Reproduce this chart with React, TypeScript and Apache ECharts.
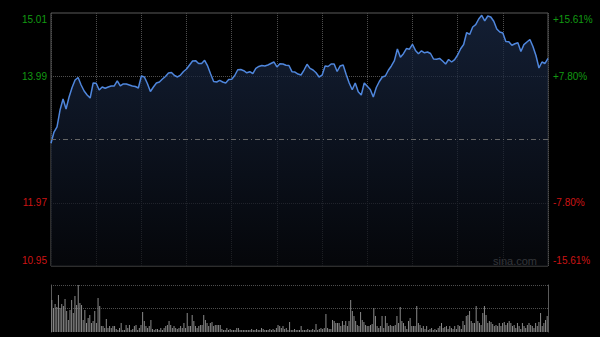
import React, { useEffect, useRef } from "react";
import * as echarts from "echarts";

const prevClose = 12.98;
const priceMin = 10.95;
const priceMax = 15.01;
const minuteStep = 2;
const totalMinutes = 330;
const gridStepMinutes = 30;
const leftLabels = ["10.95", "11.97", "", "13.99", "15.01"];
const rightLabels = ["-15.61%", "-7.80%", "", "+7.80%", "+15.61%"];

const prices = [
  12.919, 13.1, 13.181, 13.453, 13.63, 13.469, 13.662, 13.815, 13.935, 13.975,
  13.855, 13.758, 13.694, 13.646, 13.887, 13.882, 13.774, 13.823, 13.802, 13.823,
  13.839, 13.839, 13.919, 13.839, 13.871, 13.871, 13.855, 13.839, 13.831, 13.807,
  13.999, 13.983, 13.879, 13.75, 13.823, 13.887, 13.903, 13.951, 13.991, 14.047,
  14.055, 14.007, 13.983, 14.015, 14.071, 14.111, 14.176, 14.24, 14.245, 14.2,
  14.2, 14.251, 14.16, 14.031, 13.911, 13.903, 13.93, 13.903, 13.887, 13.943,
  13.946, 14.007, 14.099, 14.103, 14.084, 14.05, 14.068, 14.039, 14.123, 14.152,
  14.168, 14.16, 14.176, 14.2, 14.224, 14.144, 14.195, 14.192, 14.172, 14.168,
  14.068, 14.063, 14.031, 14.015, 14.095, 14.187, 14.121, 14.095, 14.052, 13.983,
  14.012, 14.16, 14.152, 14.192, 14.192, 14.071, 14.16, 14.176, 14.023, 13.887,
  13.778, 13.887, 13.747, 13.694, 13.887, 13.834, 13.782, 13.662, 13.815, 13.911,
  13.983, 13.999, 14.091, 14.16, 14.245, 14.432, 14.299, 14.357, 14.439, 14.429,
  14.508, 14.41, 14.357, 14.403, 14.371, 14.384, 14.36, 14.272, 14.267, 14.281,
  14.24, 14.192, 14.264, 14.224, 14.261, 14.336, 14.437, 14.504, 14.697, 14.665,
  14.785, 14.822, 14.914, 14.973, 14.882, 14.962, 14.946, 14.878, 14.753, 14.705,
  14.689, 14.553, 14.549, 14.492, 14.516, 14.532, 14.392, 14.503, 14.545, 14.585,
  14.472, 14.328, 14.127, 14.224, 14.2, 14.283,
];

const volumesMorning = [
  32, 24, 28, 25, 37, 24, 28, 26, 33, 21, 12, 22, 32, 19, 36, 27, 47, 29, 27, 12,
  22, 9, 14, 17, 9, 11, 21, 9, 34, 26, 6, 6, 4, 13, 4, 6, 4, 6, 6, 3,
  2, 4, 9, 2, 2, 7, 4, 7, 2, 3, 6, 7, 2, 4, 7, 20, 11, 6, 4, 6,
  12, 3, 2, 3, 3, 2, 4, 2, 4, 6, 7, 11, 7, 4, 6, 4, 3, 4, 6, 4,
  9, 4, 19, 6, 6, 17, 11, 6, 4, 6, 7, 7, 17, 12, 9, 6, 9, 10, 6, 7,
];
const volumesMidday = [
  7, 7, 7, 3, 2, 2, 4, 2, 3, 2, 2, 2, 4, 4, 2, 2, 2, 2, 2, 2,
  2, 3, 2, 2, 3, 2, 2, 4, 3, 2, 2, 2, 3, 2, 3, 2, 4, 7, 6, 4,
  6, 3, 4, 2, 10, 2, 2, 3, 2, 2, 2, 6, 2, 2, 2, 3, 2, 2, 3, 2,
  8, 2, 3, 4, 3, 4, 18, 4, 3, 3, 12, 11, 9, 9, 9, 6, 11, 7, 11, 6,
  11, 32, 21, 16, 11, 7, 6, 20, 12, 10, 7, 6, 6, 7, 8, 24, 16, 6, 4, 6,
  16, 4,
];
const volumesAfternoon = [
  16, 9, 6, 7, 6, 6, 7, 16, 9, 25, 11, 9, 6, 3, 11, 14, 6, 6, 6, 26,
  9, 7, 4, 6, 3, 6, 2, 3, 4, 2, 3, 2, 4, 6, 9, 4, 5, 6, 3, 6,
  4, 3, 6, 3, 7, 6, 3, 11, 7, 16, 17, 21, 11, 9, 9, 26, 11, 9, 7, 19,
  26, 17, 9, 11, 10, 8, 6, 7, 6, 9, 6, 9, 10, 7, 9, 11, 9, 6, 7, 4,
  9, 6, 3, 9, 6, 4, 7, 9, 7, 6, 4, 9, 6, 10, 19, 6, 9, 12, 16,
];

export default function App() {
  const ref = useRef<HTMLDivElement>(null);

  useEffect(() => {
    document.body.style.margin = "0";
    document.body.style.background = "#000";
    if (!ref.current) return;
    const chart = echarts.init(ref.current, null, { renderer: "svg" });

    const volumes = [...volumesMorning, ...volumesMidday, ...volumesAfternoon];
    const volMax = Math.max(...volumes);
    const green = "#129a12";
    const red = "#cc1414";
    const font = "Arial, 'Liberation Sans', sans-serif";
    const fs = 10;
    const rich = {
      gTop: { color: green, fontSize: fs, fontFamily: font, padding: [12, 0, 0, 0] },
      g: { color: green, fontSize: fs, fontFamily: font },
      r: { color: red, fontSize: fs, fontFamily: font },
      rBot: { color: red, fontSize: fs, fontFamily: font, padding: [0, 0, 12, 0] },
    };
    const fmt = (labels: string[]) => (v: number) => {
      const i = Math.round(v);
      const t = labels[i];
      if (!t) return "";
      const key = i === 4 ? "gTop" : i === 3 ? "g" : i === 1 ? "r" : "rBot";
      return `{${key}|${t}}`;
    };
    const hidden = "rgba(0,0,0,0)";

    chart.setOption({
      animation: false,
      backgroundColor: "#000",
      grid: [
        {
          left: 51,
          right: 52,
          top: 13,
          height: 253,
          show: true,
          borderColor: "#5a5a5a",
          borderWidth: 1,
          backgroundColor: "transparent",
          outerBoundsMode: "none",
        },
        { left: 51, right: 52, top: 285, height: 47, outerBoundsMode: "none" },
      ],
      xAxis: [
        {
          type: "value",
          gridIndex: 0,
          min: 0,
          max: totalMinutes,
          interval: gridStepMinutes,
          axisLine: { show: false },
          axisTick: { show: false },
          axisLabel: { show: false },
          splitLine: { show: true, lineStyle: { color: "#4e4e4e", type: "dotted", width: 1 } },
        },
        {
          type: "category",
          gridIndex: 1,
          data: volumes.map((_, i) => i),
          show: false,
        },
      ],
      yAxis: [
        { type: "value", gridIndex: 0, min: priceMin, max: priceMax, show: false },
        {
          type: "value",
          gridIndex: 0,
          position: "left",
          min: 0,
          max: 4,
          interval: 1,
          axisLine: { show: false },
          axisTick: { show: false },
          axisLabel: { show: true, margin: 4, formatter: fmt(leftLabels), rich },
          splitLine: {
            show: true,
            lineStyle: { color: [hidden, "#4e4e4e", hidden, "#4e4e4e", hidden], type: "dotted", width: 1 },
          },
        },
        {
          type: "value",
          gridIndex: 0,
          position: "right",
          min: 0,
          max: 4,
          interval: 1,
          axisLine: { show: false },
          axisTick: { show: false },
          axisLabel: { show: true, margin: 5, formatter: fmt(rightLabels), rich },
          splitLine: { show: false },
        },
        {
          type: "value",
          gridIndex: 1,
          position: "left",
          min: 0,
          max: volMax,
          interval: volMax / 2,
          axisLine: { show: true, lineStyle: { color: "#5a5a5a", width: 1 } },
          axisTick: { show: false },
          axisLabel: { show: false },
          splitLine: {
            show: true,
            lineStyle: { color: [hidden, "#4e4e4e", "#4e4e4e"], type: "dotted", width: 1 },
          },
        },
        {
          type: "value",
          gridIndex: 1,
          position: "right",
          min: 0,
          max: volMax,
          axisLine: { show: true, lineStyle: { color: "#5a5a5a", width: 1 } },
          axisTick: { show: false },
          axisLabel: { show: false },
          splitLine: { show: false },
        },
      ],
      series: [
        {
          type: "line",
          xAxisIndex: 0,
          yAxisIndex: 0,
          data: prices.map((p, i) => [i * minuteStep, p]),
          showSymbol: false,
          symbol: "none",
          lineStyle: { color: "#4f86dc", width: 1.5 },
          areaStyle: {
            color: new echarts.graphic.LinearGradient(0, 0, 0, 1, [
              { offset: 0, color: "#1b2b49" },
              { offset: 1, color: "#07090e" },
            ]),
          },
          markLine: {
            silent: true,
            symbol: ["none", "none"],
            label: { show: false },
            lineStyle: { color: "#666", type: [5, 3, 1, 3], width: 1 },
            data: [{ yAxis: prevClose }],
          },
        },
        {
          type: "bar",
          xAxisIndex: 1,
          yAxisIndex: 3,
          data: volumes,
          barWidth: 1,
          itemStyle: { color: "#8a8a8a" },
        },
      ],
      graphic: [
        {
          type: "text",
          right: 63,
          top: 255,
          style: { text: "sina.com", fill: "#9a9a9a", font: `11px ${font}` },
        },
      ],
    });

    return () => chart.dispose();
  }, []);

  return <div ref={ref} style={{ width: 600, height: 337, background: "#000" }} />;
}
